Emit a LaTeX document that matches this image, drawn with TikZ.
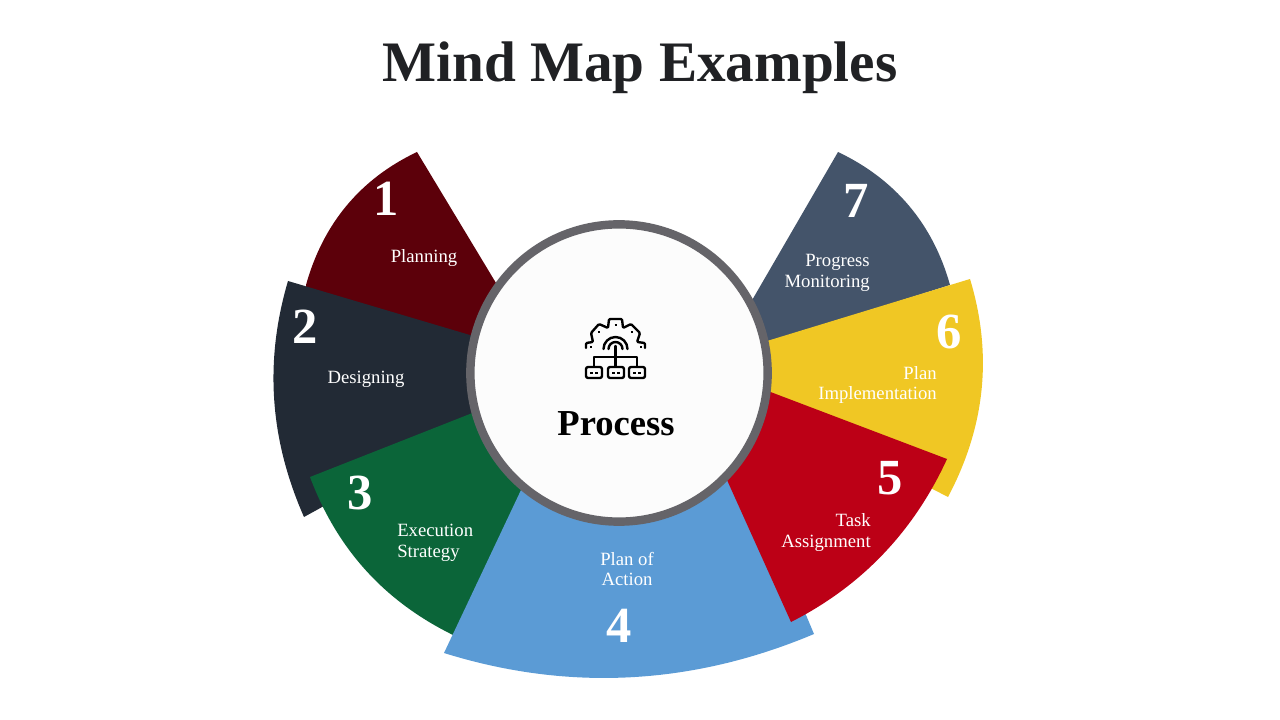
\documentclass[tikz,border=0pt]{standalone}
\usepackage{fontspec}
\setmainfont{Liberation Serif}
\definecolor{planning}{HTML}{5C000A}
\definecolor{designing}{HTML}{222A35}
\definecolor{execution}{HTML}{0B6539}
\definecolor{action}{HTML}{5B9BD5}
\definecolor{task}{HTML}{BC0016}
\definecolor{implementation}{HTML}{F0C724}
\definecolor{progress}{HTML}{44546A}
\definecolor{ring}{HTML}{656469}
\definecolor{hub}{HTML}{FCFCFC}
\definecolor{heading}{HTML}{202124}
\tikzset{secteur/.style={fill=#1,draw=none},secteur/.default={action}}
\tikzset{numero/.style={text=white,font=\fontsize{36}{36}\selectfont\bfseries,inner sep=0pt}}
\tikzset{etiquette/.style={text=white,font=\fontsize{13.3}{14.8}\selectfont,inner sep=0pt,align=#1},etiquette/.default={center}}
\tikzset{trait/.style={draw=black,line width=1.7pt,line join=round,line cap=round}}
\tikzset{point/.style={draw=black,line width=2pt,line cap=butt}}

\begin{document}
\begin{tikzpicture}[x=0.025cm,y=-0.025cm]
\useasboundingbox (0,0) rectangle (1280,720);
\node [text=heading,font=\fontsize{40.7}{41}\selectfont\bfseries] (title) at (640,68) {Mind Map Examples};
% left wedges
\path [secteur=planning] (417,152) .. controls (360,179) and (323,224) .. (306,285) -- (306,292) -- (480,340) -- (496,283) -- cycle;
\path [secteur=designing] (288,281) .. controls (264,362) and (270,440) .. (304,517) -- (480,420) -- (480,338) -- cycle;
\path [secteur=execution] (310,477) .. controls (337,549) and (384,601) .. (453,635) -- (530,495) -- (480,410) -- cycle;
% right wedges
\path [secteur=progress] (838,152) .. controls (895,179) and (933,224) .. (950,285) -- (760,345) -- (751,302) -- cycle;
\path [secteur=implementation] (970,279) .. controls (993,355) and (985,427) .. (948,497) -- (760,400) -- (767,341) -- cycle;
\path [secteur] (444,653) .. controls (569,692) and (693,685) .. (814,634) -- (745,470) -- (521,490) -- cycle;
\path [secteur=task] (947,459) .. controls (914,531) and (862,586) .. (791,622) -- (727,480) -- (760,388) -- cycle;
% hub
\node [circle,draw=ring,fill=hub,line width=6pt,minimum size=7.43cm,inner sep=0pt] (hub) at (619,373) {};
\node [text=black,font=\fontsize{26}{26}\selectfont\bfseries] (process) at (616,424) {Process};
% icon
\draw [trait,rounded corners=0.8pt] (586,348) -- (586,343) -- (593,342) -- (591,333) -- (599,324) -- (608,328) -- (609,319) -- (622,319) -- (623,328) -- (631,324) -- (640,333) -- (637,342) -- (645,343) -- (645,348);
\draw [trait] (603.5,349) arc (180:360:12);
\draw [trait] (608.5,349) arc (180:360:7);
\draw [trait] (615.5,346) -- (615.5,366);
\draw [trait] (594,366) -- (594,357) -- (637,357) -- (637,366);
\draw [trait,rounded corners=1.5pt] (586,367) rectangle (602,378);
\draw [trait,rounded corners=1.5pt] (608,367) rectangle (624,378);
\draw [trait,rounded corners=1.5pt] (629,367) rectangle (645,378);
\draw [point] (590,373) -- (593,373) (595,373) -- (598,373);
\draw [point] (612,373) -- (615,373) (617,373) -- (620,373);
\draw [point] (633,373) -- (636,373) (638,373) -- (641,373);
\draw [point] (590,347) -- (592,347) (598,332) -- (600,332) (614.5,325) -- (616.5,325) (631,332) -- (633,332) (640,347) -- (642,347);
% labels
\node [numero] (n1) at (386,199) {1};
\node [numero] (n2) at (305,327) {2};
\node [numero] (n3) at (360,493) {3};
\node [numero] (n4) at (619,626) {4};
\node [numero] (n5) at (890,478) {5};
\node [numero] (n6) at (949,332) {6};
\node [numero] (n7) at (856,201) {7};
\node [etiquette] (planningtext) at (424,258) {Planning};
\node [etiquette] (designingtext) at (366,379) {Designing};
\node [etiquette=left,anchor=west] (executiontext) at (397,542.5) {Execution\\Strategy};
\node [etiquette] (actiontext) at (627,569) {Plan of\\Action};
\node [etiquette=right,anchor=east] (tasktext) at (871,532.5) {Task\\Assignment};
\node [etiquette=right,anchor=east] (implementationtext) at (937,385) {Plan\\Implementation};
\node [etiquette=right,anchor=east] (progresstext) at (870,272.5) {Progress\\Monitoring};
\end{tikzpicture}
\end{document}
